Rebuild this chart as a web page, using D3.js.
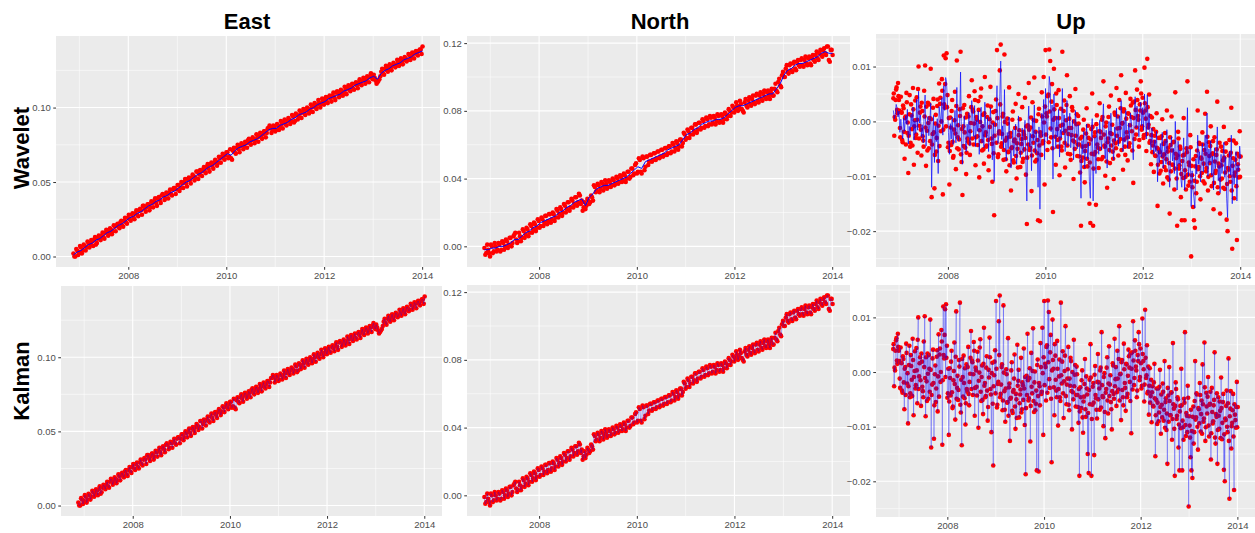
<!DOCTYPE html>
<html>
<head>
<meta charset="utf-8">
<script src="https://cdn.jsdelivr.net/npm/d3@7"></script>
<style>
  body { margin: 0; background: #fff; }
  svg { display: block; font-family: "Liberation Sans", Arial, sans-serif; }
  .tick text { fill: #4d4d4d; font-size: 9.5px; }
  .tick line { stroke: #333; }
  .domain { display: none; }
</style>
</head>
<body>
<svg id="chart" width="1255" height="533"></svg>
<script>

// first epoch of the GPS series
var startDate = new Date(2006, 10, 18);

var yearTicks = [2008, 2010, 2012, 2014];
var minorYears = [2007, 2009, 2011, 2013];
var eastTicks = [0, 0.05, 0.10];
var northTicks = [0, 0.04, 0.08, 0.12];
var upTicks = [-0.02, -0.01, 0, 0.01];

// East observations (mm), one every 14 days
var eastObs = [
  2,0,4,3,6,4,7,6,9,8,
  10,11,8,12,13,14,13,16,17,16,
  18,17,20,21,20,23,21,24,23,26,
  25,28,26,29,28,31,31,34,32,33,
  35,33,36,37,36,39,38,41,41,39,
  42,43,42,45,46,45,48,46,49,50,
  49,52,51,53,54,53,57,55,57,58,
  57,60,59,62,61,63,64,63,66,67,
  66,68,70,67,66,71,70,73,72,74,
  75,74,76,78,76,78,79,78,80,81,
  80,82,84,83,86,87,85,87,85,88,
  87,89,90,89,91,92,91,94,91,95,
  94,96,97,96,98,99,98,100,101,100,
  102,103,102,104,105,104,107,106,108,107,
  110,110,109,111,110,112,113,112,114,113,
  116,115,117,116,118,119,118,120,121,120,
  122,118,117,119,124,123,126,125,127,126,
  128,129,128,130,131,130,132,133,132,135,
  134,136,137,136,138,139,141
];
// East observations (mm), the epochs 7 days after the ones above
var eastObs2 = [
  0,5,1,7,2,8,4,10,6,11,
  7,13,9,14,11,16,12,18,14,19,
  15,21,17,22,19,24,20,26,22,28,
  24,29,25,31,27,32,28,34,30,35,
  31,37,33,39,34,40,36,42,38,43,
  39,45,41,46,42,48,44,50,46,52,
  47,53,49,55,51,57,52,58,54,60,
  56,62,57,63,59,65,61,67,63,69,
  65,70,66,72,65,73,69,75,70,76,
  72,77,73,79,75,80,76,82,77,83,
  79,84,80,86,88,83,88,84,89,85,
  91,86,92,88,93,89,95,90,96,92,
  98,93,99,95,100,96,102,97,103,99,
  105,100,106,102,107,103,108,104,110,105,
  111,107,112,108,114,109,115,111,116,112,
  117,113,119,115,120,116,121,117,123,119,
  120,116,118,121,126,122,128,124,129,125,
  130,127,132,128,133,129,134,131,136,132,
  137,133,138,135,139,136
];
// East wavelet estimate (mm), one every 28 days
var eastWavelet = [
  1,3,4,6,8,9,11,12,14,16,
  17,19,21,22,24,26,27,29,30,32,
  34,35,37,38,40,41,43,44,46,48,
  50,51,53,55,56,58,60,61,63,65,
  67,69,68,71,73,74,75,77,78,79,
  81,83,85,86,86,88,89,90,92,93,
  95,96,97,99,100,102,103,104,106,107,
  108,109,111,112,113,115,116,117,118,120,
  121,119,123,125,126,128,129,130,132,133,
  134,136,137,138
];

// North observations (mm), one every 14 days
var northObs = [
  -1,-4,-2,-6,0,-3,0,-2,1,-2,
  2,0,3,1,5,2,7,4,3,6,
  5,9,7,10,8,12,10,13,11,15,
  12,16,14,18,15,19,16,19,17,21,
  19,22,20,24,22,26,23,27,25,29,
  26,30,27,23,22,28,25,30,27,35,
  33,36,34,37,35,37,35,38,36,39,
  37,40,38,41,39,42,40,44,41,46,
  43,49,44,51,43,52,47,53,50,54,
  51,55,52,56,53,57,54,58,55,59,
  56,60,58,61,59,63,61,66,64,68,
  66,70,68,72,69,73,70,74,71,75,
  72,76,73,76,74,77,74,77,75,78,
  77,80,79,82,81,83,82,84,80,85,
  83,86,84,87,85,89,86,89,87,90,
  88,91,89,91,89,93,92,97,95,101,
  100,105,103,107,104,108,105,109,107,110,
  107,110,108,111,108,111,110,113,111,114,
  113,116,114,118,110,116,113
];
// North observations (mm), the epochs 7 days after the ones above
var northObs2 = [
  -5,1,-4,1,-4,2,-3,2,-3,3,
  -2,4,-1,5,0,6,8,2,8,3,
  10,5,11,6,13,8,14,9,16,11,
  17,12,18,13,19,14,20,15,22,17,
  23,18,25,20,26,21,28,23,29,24,
  31,25,21,26,24,27,26,29,36,32,
  37,32,38,33,39,34,39,35,40,36,
  41,37,42,38,43,38,44,40,46,42,
  48,43,52,44,53,45,53,48,54,50,
  55,51,56,52,57,53,58,54,59,55,
  61,56,62,57,63,59,67,63,69,64,
  70,66,72,67,73,69,75,70,76,71,
  77,72,77,72,78,73,78,73,79,75,
  81,77,83,79,85,80,86,81,79,87,
  82,88,83,89,84,90,85,91,86,92,
  87,92,87,93,89,96,91,99,94,103,
  100,107,102,108,103,109,104,110,106,111,
  106,112,107,112,107,113,109,115,110,116,
  112,117,113,118,109,116
];
// North wavelet estimate (mm), one every 28 days
var northWavelet = [
  -2,-2,-1,-1,0,0,1,2,4,4,
  6,8,9,11,12,14,15,16,17,18,
  20,21,23,24,26,27,28,24,29,31,
  34,35,36,36,37,38,39,40,41,43,
  45,47,46,50,51,52,53,54,55,57,
  58,59,60,63,66,67,69,70,72,73,
  74,74,75,75,76,78,80,82,83,83,
  84,85,86,87,88,89,90,90,93,96,
  101,104,105,107,108,108,109,110,111,112,
  114,115,114,114
];

// Up observations (mm), one every 7 days
var upObs = [
  4.2,-2.6,0.3,5.8,2.1,7.0,3.9,-1.2,4.5,1.6,
  -3.8,2.4,-6.8,0.9,5.2,-2.1,-9.4,1.3,-4.6,3.1,
  -1.4,6.1,-7.9,0.2,-3.0,4.4,-5.7,10.0,-0.8,2.7,
  -6.2,1.9,-3.5,5.6,10.2,-8.1,-1.7,3.4,-4.9,0.6,
  9.6,-13.8,-2.3,4.1,-12.2,-0.4,-5.5,2.8,-7.2,6.9,
  3.2,-1.8,7.7,-13.3,12.0,2.5,11.5,12.4,4.8,-3.9,
  -11.5,0.7,-4.3,3.9,-6.6,-1.5,5.4,-8.7,11.1,-2.9,
  -5.1,2.2,12.7,-7.4,-13.4,-0.9,3.0,-4.8,-9.6,1.4,
  -3.6,4.6,-6.1,-0.3,7.5,2.1,-4.2,5.5,-8.0,0.8,
  -2.7,3.7,-10.2,-0.1,6.0,-5.3,1.2,-7.7,8.1,-2.0,
  -4.4,2.9,-8.9,0.4,6.3,-3.1,-11.0,1.7,-17.1,-0.6,
  4.0,13.0,-6.5,-2.2,9.3,14.0,-4.0,0.9,-7.0,12.2,
  -3.5,-9.1,0.5,-5.6,6.2,-2.8,-12.6,-4.7,1.8,-7.5,
  -3.3,3.2,-10.4,-5.0,5.0,-1.6,-8.3,-4.1,2.6,-6.8,
  -2.4,4.3,-9.7,-18.7,-0.7,7.0,-5.2,-1.1,-12.7,3.5,
  -3.9,8.0,-7.3,0.1,-5.8,-18.0,2.3,-18.2,-2.6,5.3,
  -4.0,8.1,-11.5,13.0,1.5,-5.2,4.9,13.1,11.0,-2.9,
  6.8,-16.5,9.6,0.6,-7.9,3.0,-3.4,5.7,-9.8,-0.8,
  -4.6,12.7,-2.1,3.8,-8.4,0.2,8.4,-5.9,-1.2,4.6,
  -7.0,-2.5,2.0,-10.5,-3.7,5.9,-0.5,-6.3,1.0,-4.2,
  -9.3,-19.0,-2.8,-6.6,0.3,-11.1,-4.5,2.4,-8.2,-3.0,
  -15.0,-18.5,-1.4,5.1,-19.0,-6.0,-2.0,-15.2,1.1,-4.8,
  -8.5,3.3,-1.9,-6.9,0.8,7.3,-4.4,-9.9,-0.2,-12.1,
  -3.1,2.7,-7.6,4.7,-2.3,-5.5,-10.5,1.6,-4.0,6.1,
  -1.3,-6.2,3.9,-3.2,8.4,-0.4,-8.8,2.2,-4.6,5.2,
  -2.0,-7.1,1.4,-4.0,4.1,0.8,-5.3,-11.2,3.6,9.3,
  -2.4,5.8,1.0,-4.6,3.1,7.3,-1.5,4.3,-3.0,9.8,
  2.0,-5.4,11.4,-1.1,4.9,-3.6,-7.8,0.7,-4.4,-9.2,
  -2.6,-6.3,1.5,-15.4,-5.1,-9.5,-3.0,-7.4,0.4,-11.3,
  -6.0,-2.1,-8.9,2.0,-5.5,-10.6,-16.8,-4.3,0.9,-7.9,
  -3.8,-12.4,5.3,-6.7,-19.0,-1.9,-8.6,-4.6,-13.8,-18.0,
  -6.2,0.6,-18.0,-10.1,-4.9,7.3,-11.7,-8.0,-2.5,-24.6,
  -9.8,-15.6,-18.0,-19.4,-6.3,-11.0,2.0,-8.3,-4.1,-14.2,
  -6.8,-2.0,-10.9,-5.2,1.4,-9.1,5.4,-12.6,-3.8,-7.6,
  -0.9,-11.8,-5.8,-16.0,-2.9,-9.4,-6.1,3.6,-13.1,-8.2,
  -16.8,-4.6,-10.4,-7.1,-1.0,-12.3,-5.5,-17.9,-20.0,-8.8,
  -3.4,-11.0,2.5,-23.2,-6.7,-14.0,-9.3,-4.0,-21.6,-7.8,
  -10.2,-1.8,-6.4
];
// Up observations (mm), the epochs 3 days after the ones above
var upObs2 = [
  5.1,0.8,3.9,6.2,1.5,4.6,2.0,-2.9,1.7,-3.4,
  2.9,-1.9,0.6,-4.2,3.5,-0.2,-2.6,4.8,-3.9,1.1,
  -4.4,2.2,-0.9,3.8,-2.4,0.3,5.9,-3.1,1.6,-1.5,
  3.4,-2.7,-4.6,0.9,-1.1,2.7,-5.3,-0.3,3.1,-3.6,
  0.4,-4.2,2.5,-2.0,-6.1,1.2,-3.0,4.0,-0.8,-4.5,
  4.3,0.0,5.6,-1.5,3.1,6.8,-0.9,2.6,-4.7,0.6,
  -5.4,-1.1,1.9,-3.7,-6.3,0.2,-2.2,2.8,-4.9,-0.7,
  -3.3,1.0,-6.0,-1.4,2.4,-4.5,-2.0,0.7,-5.7,-3.1,
  0.9,-4.0,-1.8,2.6,-3.1,1.8,-0.4,3.9,-2.9,0.3,
  -4.3,2.1,-1.6,4.5,-3.6,-0.9,-5.1,1.5,-2.5,-4.6,
  0.8,-3.4,-6.4,-1.0,2.7,-4.1,-0.2,-5.8,-2.6,1.9,
  -3.9,0.6,-6.0,-1.8,3.1,-4.6,-2.3,1.4,-5.2,-0.1,
  -6.9,-3.0,-0.4,-5.5,-8.0,-2.1,-4.9,0.3,-7.1,-3.6,
  -1.2,-6.3,-4.0,-8.4,-2.5,0.4,-5.7,-3.2,-7.4,-1.9,
  -5.1,-3.0,-0.9,-6.6,-4.2,-1.5,-4.8,0.7,-6.2,-2.7,
  0.2,-5.3,-1.9,-7.0,-3.4,1.3,-4.4,-2.0,-6.1,0.9,
  -3.6,-0.2,2.7,-2.4,0.9,4.6,-3.8,1.8,-1.3,3.6,
  -4.9,0.3,2.2,-2.8,5.1,-1.4,-4.6,0.6,-3.1,2.3,
  -5.3,-0.6,1.9,-3.9,-1.7,3.0,-4.4,-2.3,0.5,-6.0,
  -1.2,2.6,-3.5,0.0,-5.0,-2.6,1.3,-4.2,-0.4,-6.4,
  -3.1,-7.2,-4.6,-1.5,-8.3,-5.4,-2.2,-6.8,-0.8,-4.1,
  -7.5,-3.3,-5.9,-1.0,-8.6,-2.7,-5.6,-0.5,-4.2,-6.9,
  -1.8,-5.0,-3.0,0.3,-6.5,-2.4,-4.6,-0.9,-7.3,-3.8,
  0.8,-5.2,-2.1,-4.4,-0.6,-6.8,-3.5,1.2,-4.9,-2.6,
  0.9,-3.7,-1.2,2.4,-5.2,-0.3,1.8,-3.3,-6.1,0.5,
  -2.9,1.5,-4.6,-0.7,2.9,-1.8,3.4,0.6,-3.2,2.1,
  -1.1,3.9,0.3,-3.4,2.0,5.1,-0.9,1.6,-2.5,3.3,
  0.5,-2.3,2.6,-0.6,-3.9,1.0,-2.5,-5.6,-1.4,-3.7,
  -6.2,-1.9,-4.8,-7.9,-3.0,-5.6,-9.0,-2.7,-6.4,-4.1,
  -8.3,-3.6,-6.9,-10.2,-4.8,-7.6,-2.9,-9.1,-5.3,-7.9,
  -3.7,-8.6,-5.9,-10.4,-6.2,-3.1,-8.0,-5.0,-9.6,-7.2,
  -10.3,-6.1,-8.9,-12.4,-5.6,-9.7,-7.5,-11.0,-4.7,-8.1,
  -12.0,-6.9,-10.8,-8.2,-13.1,-5.3,-8.7,-3.9,-10.0,-6.6,
  -9.4,-4.2,-7.7,-11.3,-5.9,-8.5,-2.8,-10.1,-6.3,-4.5,
  -9.8,-6.0,-3.6,-11.2,-7.3,-9.0,-5.1,-12.0,-7.7,-3.9,
  -10.6,-8.0,-5.4,-12.1,-6.6,-9.3,-4.0,-11.4,-8.5,-6.2,
  -10.0,-5.7,-12.6,-8.1,-3.5,-9.9,-7.0,-11.8,-5.9,-8.8,
  -6.4,-10.1
];
// Up wavelet estimate (mm), one every 7 days
var upWavelet = [
  2.0,0.5,1.2,3.1,2.4,0.8,1.9,-2.0,0.4,-1.5,
  -3.2,0.6,-1.8,1.0,-0.5,2.2,-4.1,-0.9,-2.5,1.3,
  -1.0,2.6,-3.4,0.1,-2.2,4.0,-1.6,5.5,-0.3,1.2,
  -2.8,-0.6,-3.9,1.5,4.8,-4.5,-1.0,0.9,-2.6,-0.4,
  3.3,-12.0,-2.1,1.1,-7.5,-0.8,-3.7,0.5,-9.5,2.7,
  1.0,-0.5,4.3,-2.5,6.5,2.0,8.0,7.2,3.0,-2.0,
  -6.0,-0.4,-3.2,0.8,-4.2,-1.8,2.0,-3.9,6.2,-2.4,
  -3.6,0.3,9.0,-4.0,-7.8,-1.7,1.0,-3.5,-5.5,-0.5,
  -2.9,1.6,-4.5,-1.0,3.8,0.6,-2.8,2.9,-4.6,0.2,
  -1.8,1.9,-6.0,-0.8,2.6,-3.9,-0.5,-4.8,3.5,-1.6,
  -3.0,0.7,-5.5,-1.2,2.5,-2.5,-7.0,-0.3,-10.9,-1.4,
  0.8,6.5,-4.0,-2.6,4.5,11.0,-3.3,-0.8,-4.9,5.8,
  -4.0,-7.2,-2.0,-5.0,0.8,-3.6,-8.5,-4.8,-1.5,-6.3,
  -3.9,-0.5,-7.8,-5.2,1.0,-2.9,-6.6,-4.5,-1.2,-5.7,
  -3.0,0.2,-7.5,-14.5,-2.0,2.8,-4.6,-2.2,-9.0,0.6,
  -3.5,3.0,-5.8,-1.8,-4.5,-12.0,-1.0,-16.0,-2.8,1.5,
  -2.8,4.0,-7.0,6.0,0.2,-3.5,2.5,8.2,6.5,-1.9,
  3.0,-10.5,5.0,-0.5,-5.0,1.0,-2.8,2.2,-6.5,-1.5,
  -3.0,6.0,-2.0,1.2,-5.5,-0.8,3.8,-4.5,-1.9,1.5,
  -4.8,-2.4,0.3,-7.0,-3.2,2.0,-1.5,-5.0,-0.6,-3.8,
  -7.0,-14.0,-3.5,-5.9,-1.8,-8.5,-4.8,-0.5,-6.8,-3.9,
  -11.0,-14.0,-3.0,0.5,-14.5,-5.5,-2.9,-9.5,-1.0,-4.2,
  -6.0,0.2,-2.6,-5.2,-1.0,3.2,-4.0,-6.8,-1.6,-8.5,
  -3.3,0.0,-5.8,1.5,-2.8,-4.6,-7.0,-1.0,-3.6,2.4,
  -1.8,-4.5,1.0,-2.9,3.8,-1.0,-5.5,0.2,-3.8,2.0,
  -2.2,-4.9,-0.3,-3.2,1.5,0.0,-3.5,-7.0,1.5,4.5,
  -1.2,2.8,0.5,-2.8,1.8,3.5,-0.8,2.5,-1.6,5.0,
  1.2,-3.2,4.8,-1.5,1.5,-3.0,-5.2,-1.2,-4.0,-6.0,
  -3.4,-5.5,-1.8,-11.0,-5.3,-7.5,-4.0,-6.5,-2.0,-8.5,
  -6.2,-3.5,-7.8,-1.5,-5.8,-8.2,-12.0,-5.0,-2.8,-7.2,
  -4.9,-9.5,0.0,-6.5,-12.5,-3.6,-7.8,-5.2,-10.5,-12.0,
  -6.8,-3.0,-12.5,-9.2,-6.0,2.5,-10.0,-8.2,-5.0,-15.5,
  -9.0,-12.5,-14.0,-15.8,-6.8,-9.6,-2.5,-7.8,-5.5,-11.0,
  -6.9,-4.0,-9.2,-6.0,-2.5,-8.2,1.5,-10.0,-5.0,-7.5,
  -3.5,-9.8,-6.3,-12.5,-4.8,-8.6,-6.8,-1.0,-10.8,-8.0,
  -13.0,-6.0,-9.5,-7.5,-3.8,-10.2,-6.5,-14.0,-17.5,-8.5,
  -5.5,-9.8,-2.5,-15.0,-7.2,-11.5,-8.8,-5.5,-14.5,-7.9,
  -9.0,-4.5,-6.8
];

var svg = d3.select("#chart");

// turn a list of mm values into dated points in metres
function series(values, stepDays, offsetDays) {
  return values.map(function(v, i) {
    return { date: d3.timeDay.offset(startDate, i * stepDays + (offsetDays || 0)), value: v / 1000 };
  });
}

function merged(a, b) {
  return a.concat(b).sort((p, q) => p.date - q.date);
}

// ggplot style 5% padding
function expand(ext) {
  var pad = (ext[1] - ext[0]) * 0.05;
  return [ext[0] - pad, ext[1] + pad];
}

var comps = {
  east:  { obs: merged(series(eastObs, 14), series(eastObs2, 14, 7)),
           wav: series(eastWavelet, 28), ticks: eastTicks },
  north: { obs: merged(series(northObs, 14), series(northObs2, 14, 7)),
           wav: series(northWavelet, 28), ticks: northTicks },
  up:    { obs: merged(series(upObs, 7), series(upObs2, 7, 3)),
           wav: series(upWavelet, 7), ticks: upTicks }
};

var panels = [
  { comp: "east",  method: "wavelet", x0: 56,  x1: 440,  y0: 36,  y1: 267 },
  { comp: "north", method: "wavelet", x0: 467, x1: 850,  y0: 36,  y1: 267 },
  { comp: "up",    method: "wavelet", x0: 876, x1: 1258, y0: 34,  y1: 267 },
  { comp: "east",  method: "kalman",  x0: 61,  x1: 442,  y0: 286, y1: 516 },
  { comp: "north", method: "kalman",  x0: 467, x1: 850,  y0: 285, y1: 516 },
  { comp: "up",    method: "kalman",  x0: 876, x1: 1255, y0: 285, y1: 517 }
];

var defs = svg.append("defs");

panels.forEach(function(p, n) {
  var c = comps[p.comp];
  var tExt = d3.extent(c.obs, d => +d.date);
  var xDom = expand(tExt).map(t => new Date(t));
  var yDom = expand(d3.extent(c.obs, d => d.value));

  var x = d3.scaleTime().domain(xDom).range([p.x0, p.x1]);
  var y = d3.scaleLinear().domain(yDom).range([p.y1, p.y0]);

  var g = svg.append("g");

  g.append("rect")
    .attr("x", p.x0).attr("y", p.y0)
    .attr("width", p.x1 - p.x0).attr("height", p.y1 - p.y0)
    .attr("fill", "#ebebeb");

  // minor grid between major ticks
  var step = c.ticks[1] - c.ticks[0];
  var minorY = [c.ticks[0] - step / 2].concat(c.ticks.map(t => t + step / 2))
    .filter(v => v > yDom[0] && v < yDom[1]);

  g.selectAll(".minorY").data(minorY).enter().append("line")
    .attr("x1", p.x0).attr("x2", p.x1)
    .attr("y1", d => y(d)).attr("y2", d => y(d))
    .attr("stroke", "#fff").attr("stroke-width", 0.55);
  g.selectAll(".minorX").data(minorYears).enter().append("line")
    .attr("x1", d => x(new Date(d, 0, 1))).attr("x2", d => x(new Date(d, 0, 1)))
    .attr("y1", p.y0).attr("y2", p.y1)
    .attr("stroke", "#fff").attr("stroke-width", 0.55);

  g.selectAll(".majorY").data(c.ticks).enter().append("line")
    .attr("x1", p.x0).attr("x2", p.x1)
    .attr("y1", d => y(d)).attr("y2", d => y(d))
    .attr("stroke", "#fff").attr("stroke-width", 1.1);
  g.selectAll(".majorX").data(yearTicks).enter().append("line")
    .attr("x1", d => x(new Date(d, 0, 1))).attr("x2", d => x(new Date(d, 0, 1)))
    .attr("y1", p.y0).attr("y2", p.y1)
    .attr("stroke", "#fff").attr("stroke-width", 1.1);

  defs.append("clipPath").attr("id", "clip" + n)
    .append("rect")
    .attr("x", p.x0).attr("y", p.y0)
    .attr("width", p.x1 - p.x0).attr("height", p.y1 - p.y0);

  var plot = g.append("g").attr("clip-path", "url(#clip" + n + ")");

  var line = d3.line().x(d => x(d.date)).y(d => y(d.value));

  plot.selectAll("circle").data(c.obs).enter().append("circle")
    .attr("cx", d => x(d.date))
    .attr("cy", d => y(d.value))
    .attr("r", 2.3)
    .attr("fill", "#ff0000");

  if (p.method == "wavelet") {
    plot.append("path").datum(c.wav)
      .attr("d", line)
      .attr("fill", "none")
      .attr("stroke", "#0000ff")
      .attr("stroke-width", 1)
      .attr("opacity", p.comp == "up" ? 0.65 : 1);
  } else {
    plot.append("path").datum(c.obs)
      .attr("d", line)
      .attr("fill", "none")
      .attr("stroke", "#0000ff")
      .attr("stroke-width", 0.8)
      .attr("opacity", 0.38);
  }

  g.append("g")
    .attr("transform", "translate(0," + p.y1 + ")")
    .call(d3.axisBottom(x)
      .tickValues(yearTicks.map(yr => new Date(yr, 0, 1)))
      .tickFormat(d3.timeFormat("%Y"))
      .tickSize(2.75).tickPadding(3));

  g.append("g")
    .attr("transform", "translate(" + p.x0 + ",0)")
    .call(d3.axisLeft(y)
      .tickValues(c.ticks)
      .tickFormat(d3.format(".2f"))
      .tickSize(2.75).tickPadding(2.5));
});

// column titles
var titles = [["East", 247], ["North", 660], ["Up", 1071]];
svg.selectAll(".title").data(titles).enter().append("text")
  .attr("x", d => d[1]).attr("y", 29)
  .attr("text-anchor", "middle")
  .attr("font-size", "22px").attr("font-weight", "bold")
  .text(d => d[0]);

// row labels
var rows = [["Wavelet", 148], ["Kalman", 381]];
svg.selectAll(".rowlab").data(rows).enter().append("text")
  .attr("transform", d => "translate(29," + d[1] + ") rotate(-90)")
  .attr("text-anchor", "middle")
  .attr("font-size", "22px").attr("font-weight", "bold")
  .text(d => d[0]);

</script>
</body>
</html>
